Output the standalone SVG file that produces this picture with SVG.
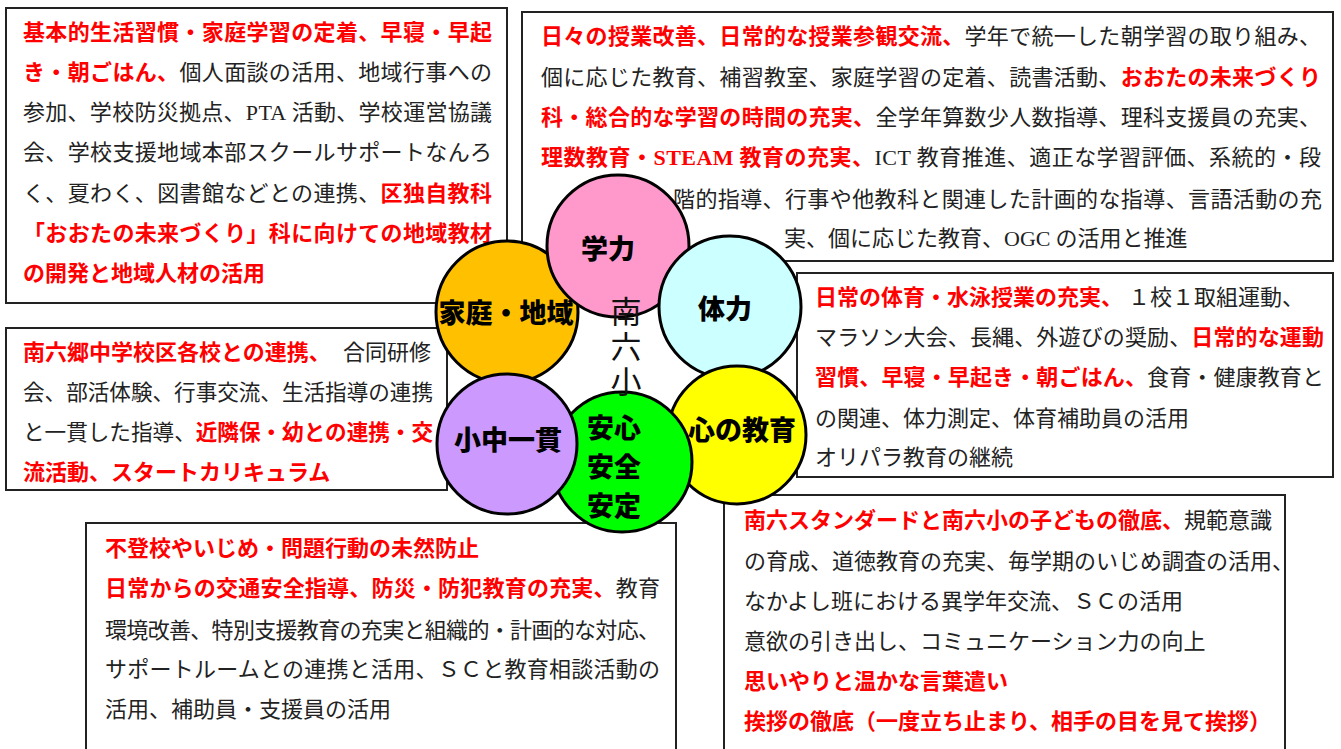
<svg xmlns="http://www.w3.org/2000/svg" width="1341" height="749" viewBox="0 0 1341 749">
<style>
.box{fill:#fff;stroke:#222;stroke-width:2}
.t{font-family:"Noto Sans CJK JP","Noto Sans CJK SC",sans-serif;font-size:22px;fill:#222}
.r{fill:#f00;font-weight:700}
.lat{font-family:"Liberation Serif","Noto Sans CJK JP",serif}
.c{stroke:#000;stroke-width:3}
.lbl{font-family:"Noto Sans CJK JP","Noto Sans CJK SC",sans-serif;font-size:27px;font-weight:900;text-anchor:middle;fill:#000}
.ctr{font-family:"Noto Sans CJK JP","Noto Sans CJK SC",sans-serif;font-size:31px;fill:#111;writing-mode:vertical-rl;letter-spacing:4px}
</style>
<rect width="1341" height="749" fill="#fff"/>

<g id="box-katei">
<rect class="box" x="6" y="8" width="501" height="295"/>
<text class="t" x="23" y="40" textLength="469" lengthAdjust="spacing"><tspan class="r">基本的生活習慣・家庭学習の定着、早寝・早起</tspan></text>
<text class="t" x="23" y="80" textLength="469" lengthAdjust="spacing"><tspan class="r">き・朝ごはん、</tspan>個人面談の活用、地域行事への</text>
<text class="t" x="23" y="120" textLength="469" lengthAdjust="spacing">参加、学校防災拠点、<tspan class="lat">PTA</tspan> 活動、学校運営協議</text>
<text class="t" x="23" y="160" textLength="469" lengthAdjust="spacing">会、学校支援地域本部スクールサポートなんろ</text>
<text class="t" x="23" y="201" textLength="469" lengthAdjust="spacing">く、夏わく、図書館などとの連携、<tspan class="r">区独自教科</tspan></text>
<text class="t" x="23" y="241" textLength="469" lengthAdjust="spacing"><tspan class="r">「おおたの未来づくり」科に向けての地域教材</tspan></text>
<text class="t" x="23" y="281"><tspan class="r">の開発と地域人材の活用</tspan></text>
</g>

<g id="box-gakuryoku">
<rect class="box" x="522" y="12" width="811" height="249"/>
<text class="t" x="541" y="44" textLength="780" lengthAdjust="spacing"><tspan class="r">日々の授業改善、日常的な授業参観交流、</tspan>学年で統一した朝学習の取り組み、</text>
<text class="t" x="541" y="85" textLength="780" lengthAdjust="spacing">個に応じた教育、補習教室、家庭学習の定着、読書活動、<tspan class="r">おおたの未来づくり</tspan></text>
<text class="t" x="541" y="125" textLength="780" lengthAdjust="spacing"><tspan class="r">科・総合的な学習の時間の充実、</tspan>全学年算数少人数指導、理科支援員の充実、</text>
<text class="t" x="541" y="165" textLength="780" lengthAdjust="spacing"><tspan class="r">理数教育・<tspan class="lat">STEAM</tspan> 教育の充実、</tspan><tspan class="lat">ICT</tspan> 教育推進、適正な学習評価、系統的・段</text>
<text class="t" x="673" y="207" textLength="649" lengthAdjust="spacing">階的指導、行事や他教科と関連した計画的な指導、言語活動の充</text>
<text class="t" x="784" y="246">実、個に応じた教育、<tspan class="lat">OGC</tspan> の活用と推進</text>
</g>

<g id="box-tairyoku">
<rect class="box" x="797" y="273" width="536" height="204"/>
<text class="t" x="815" y="305"><tspan class="r">日常の体育・水泳授業の充実、</tspan><tspan x="1128">１校１取組運動、</tspan></text>
<text class="t" x="815" y="345" textLength="509" lengthAdjust="spacing">マラソン大会、長縄、外遊びの奨励、<tspan class="r">日常的な運動</tspan></text>
<text class="t" x="815" y="385" textLength="509" lengthAdjust="spacing"><tspan class="r">習慣、早寝・早起き・朝ごはん、</tspan>食育・健康教育と</text>
<text class="t" x="815" y="426">の関連、体力測定、体育補助員の活用</text>
<text class="t" x="815" y="465">オリパラ教育の継続</text>
</g>

<g id="box-shochu">
<rect class="box" x="6" y="328" width="441" height="162"/>
<text class="t" x="23" y="360"><tspan class="r">南六郷中学校区各校との連携、</tspan><tspan x="343">合同研修</tspan></text>
<text class="t" x="23" y="400" textLength="410" lengthAdjust="spacingAndGlyphs">会、部活体験、行事交流、生活指導の連携</text>
<text class="t" x="23" y="440" textLength="410" lengthAdjust="spacingAndGlyphs">と一貫した指導、<tspan class="r">近隣保・幼との連携・交</tspan></text>
<text class="t" x="23" y="480"><tspan class="r">流活動、スタートカリキュラム</tspan></text>
</g>

<g id="box-anshin">
<rect class="box" x="86" y="523" width="590" height="240"/>
<text class="t" x="105" y="556"><tspan class="r">不登校やいじめ・問題行動の未然防止</tspan></text>
<text class="t" x="105" y="596" textLength="555" lengthAdjust="spacing"><tspan class="r">日常からの交通安全指導、防災・防犯教育の充実、</tspan>教育</text>
<text class="t" x="105" y="638" textLength="555" lengthAdjust="spacing">環境改善、特別支援教育の充実と組織的・計画的な対応、</text>
<text class="t" x="105" y="677" textLength="555" lengthAdjust="spacing">サポートルームとの連携と活用、ＳＣと教育相談活動の</text>
<text class="t" x="105" y="717">活用、補助員・支援員の活用</text>
</g>

<g id="box-kokoro">
<rect class="box" x="724" y="495" width="561" height="268"/>
<text class="t" x="744" y="528"><tspan class="r">南六スタンダードと南六小の子どもの徹底、</tspan>規範意識</text>
<text class="t" x="744" y="569">の育成、道徳教育の充実、毎学期のいじめ調査の活用、</text>
<text class="t" x="744" y="609">なかよし班における異学年交流、ＳＣの活用</text>
<text class="t" x="744" y="649">意欲の引き出し、コミュニケーション力の向上</text>
<text class="t" x="744" y="689"><tspan class="r">思いやりと温かな言葉遣い</tspan></text>
<text class="t" x="744" y="729"><tspan class="r">挨拶の徹底（一度立ち止まり、相手の目を見て挨拶）</tspan></text>
</g>

<g id="circle-katei"><circle class="c" cx="507" cy="312" r="71" fill="#FFC000"/></g>
<g id="circle-gakuryoku"><circle class="c" cx="618" cy="246" r="71" fill="#FF99CC"/></g>
<g id="circle-tairyoku"><circle class="c" cx="730" cy="307" r="71" fill="#CCFFFF"/></g>
<g id="circle-kokoro"><circle class="c" cx="737" cy="435" r="69" fill="#FFFF00"/></g>
<g id="circle-anshin"><circle class="c" cx="622" cy="462" r="70" fill="#00FF00"/></g>
<g id="circle-shochu"><circle class="c" cx="507" cy="444" r="70" fill="#CC99FF"/></g>

<g id="labels">
<text class="lbl" x="608" y="259">学力</text>
<text class="lbl" x="725" y="319">体力</text>
<text class="lbl" x="506" y="323">家庭・地域</text>
<text class="lbl" x="508" y="450">小中一貫</text>
<text class="lbl" x="742" y="440">心の教育</text>
<text class="lbl" x="614" y="438">安心</text>
<text class="lbl" x="614" y="477">安全</text>
<text class="lbl" x="614" y="516">安定</text>
</g>

<g id="center-title">
<text class="ctr" x="626" y="296">南六小</text>
</g>
</svg>
